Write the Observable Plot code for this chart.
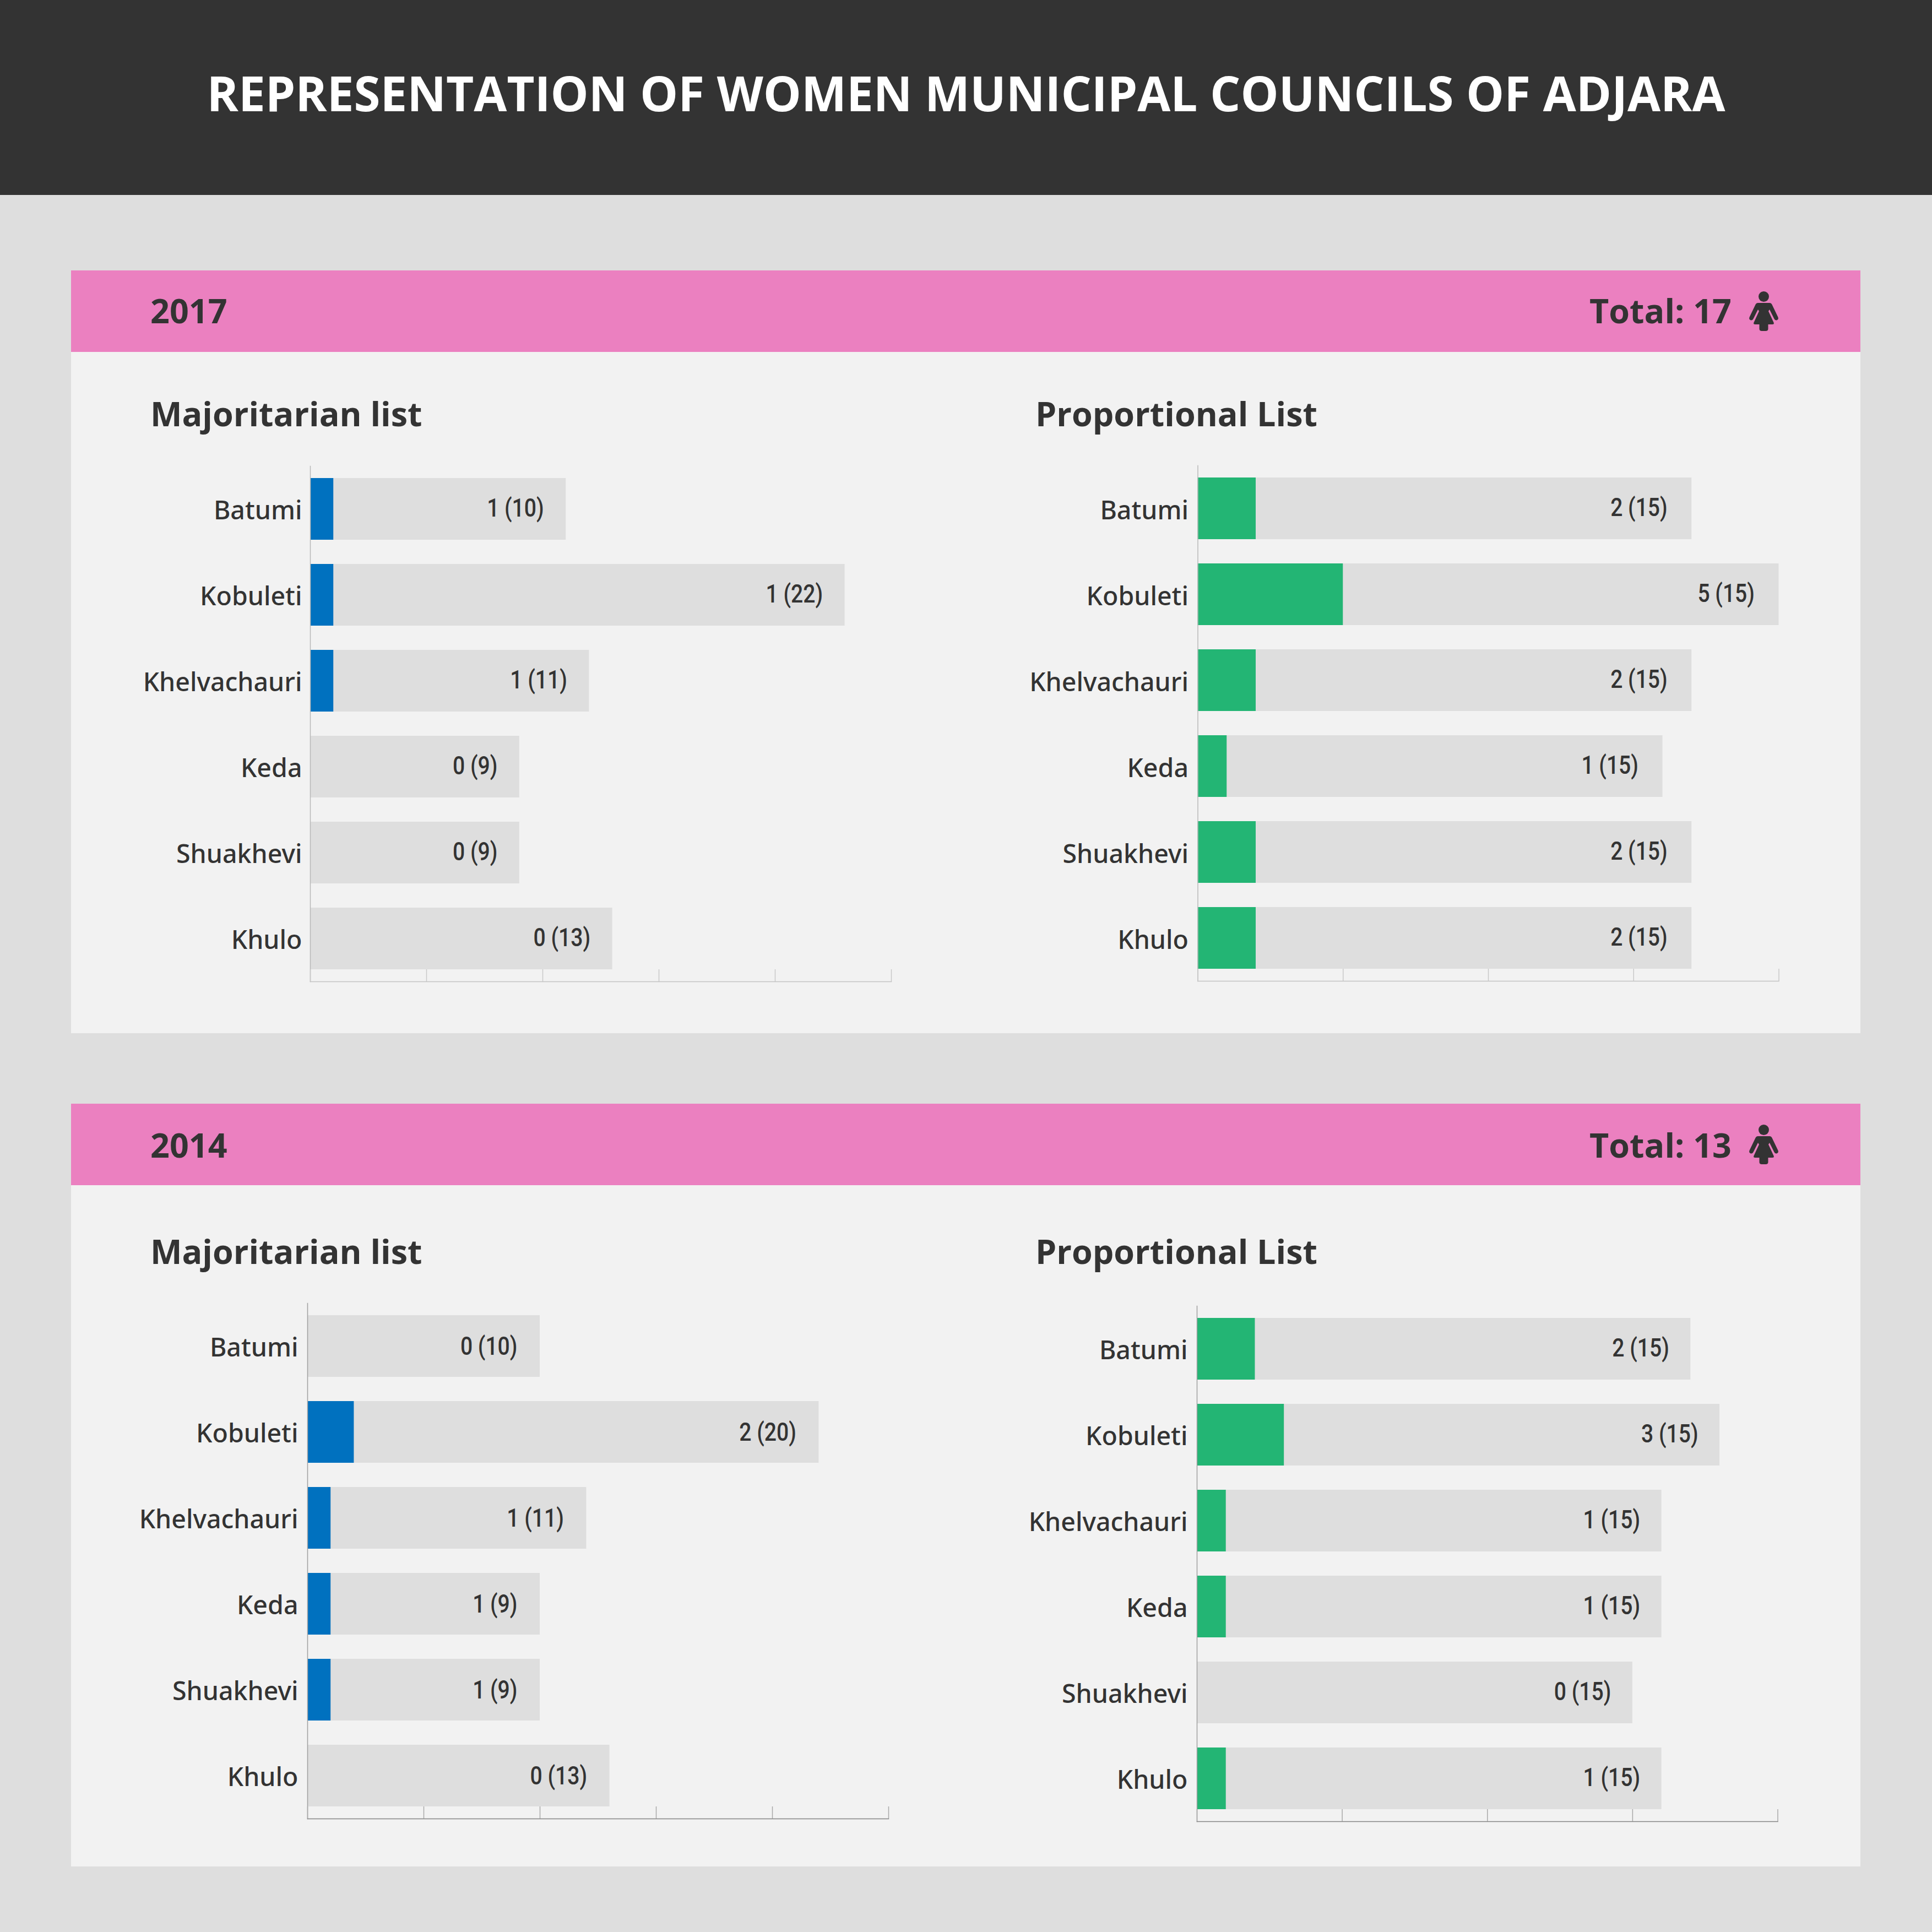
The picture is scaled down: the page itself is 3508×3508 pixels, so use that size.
<!DOCTYPE html>
<html><head><meta charset="utf-8">
<script src="https://cdn.jsdelivr.net/npm/d3@7"></script>
<script src="https://cdn.jsdelivr.net/npm/@observablehq/plot@0.6"></script>
<style>
html,body{margin:0;padding:0;background:#dedede}
#page{position:relative;width:3508px;height:3508px;background:#dedede;overflow:hidden;font-family:"Open Sans",sans-serif;color:#333}
.abs{position:absolute}
.t{position:absolute;white-space:nowrap;font-weight:700;line-height:1}
svg{overflow:visible}
</style></head><body><div id="page"></div>
<script>
const title = "REPRESENTATION OF WOMEN MUNICIPAL COUNCILS OF ADJARA";
const municipalities = ["Batumi","Kobuleti","Khelvachauri","Keda","Shuakhevi","Khulo"];
const women2017Maj = [1,1,1,0,0,0];
const others2017Maj = [10,22,11,9,9,13];
const women2017Pro = [2,5,2,1,2,2];
const others2017Pro = [15,15,15,15,15,15];
const women2014Maj = [0,2,1,1,1,0];
const others2014Maj = [10,20,11,9,9,13];
const women2014Pro = [2,3,1,1,0,1];
const others2014Pro = [15,15,15,15,15,15];
const BLUE="#0071bf", GREEN="#23b574", GREY="#dedede", INK="#333333";

const page=document.getElementById("page");
function box(l,t,w,h,c){const d=document.createElement("div");d.className="abs";d.style.cssText=`left:${l}px;top:${t}px;width:${w}px;height:${h}px;background:${c}`;page.appendChild(d);}
function text(s,l,baseline,size,opt={}){const d=document.createElement("div");d.className="t";d.textContent=s;
  d.style.fontSize=size+"px";d.style.top=(baseline-size*0.86)+"px";
  if(opt.right!==undefined){d.style.right=(3508-opt.right)+"px";}else d.style.left=l+"px";
  if(opt.center){d.style.left="0";d.style.width=opt.center*2+"px";d.style.textAlign="center";}
  if(opt.color)d.style.color=opt.color;page.appendChild(d);}
function icon(y){
  const ns="http://www.w3.org/2000/svg";const s=document.createElementNS(ns,"svg");
  s.setAttribute("viewBox","0 0 53 72");s.setAttribute("width",53);s.setAttribute("height",72);
  s.style.cssText=`position:absolute;left:3176px;top:${y}px`;
  s.innerHTML=`<ellipse cx="26.5" cy="9.5" rx="9.5" ry="9.5" fill="${INK}"/>
  <path d="M16 21 H37 Q40 21 41.5 24 L52.5 47 Q54 51 50 52.5 Q47 53 45.5 50 L37 33 L35 36 L44.5 56.5 Q46 60 42 60 H34.5 V68 Q34.5 72 30 72 H23 Q18.5 72 18.5 68 V60 H11 Q7 60 8.5 56.5 L18 36 L16 33 L7.5 50 Q6 53 3 52.5 Q-1 51 .5 47 L11.5 24 Q13 21 16 21Z" fill="${INK}"/>`;
  page.appendChild(s);
}
function panel(women,others,color,o){
  const rows=municipalities.map((m,i)=>({name:m,women:women[i],seats:others[i],total:women[i]+others[i],label:`${women[i]} (${others[i]})`}));
  const fig=Plot.plot({
    width:o.axisX+o.axisW+40,height:936+40,
    marginLeft:o.axisX,marginRight:40,marginTop:0,marginBottom:40,
    style:{background:"transparent",overflow:"visible"},
    x:{domain:[0,o.max],axis:null,ticks:o.ticks},
    y:{domain:municipalities,paddingInner:0.282,paddingOuter:0.141,axis:null},
    marks:[
      Plot.barX(rows,{x:"total",y:"name",fill:GREY}),
      Plot.barX(rows,{x:"women",y:"name",fill:color}),
      Plot.frame({anchor:"left",stroke:o.yAxis,strokeWidth:1.5}),
      Plot.frame({anchor:"bottom",stroke:o.xAxis,strokeWidth:1.5}),
      Plot.axisX({ticks:o.ticks,tickSize:-22,tickFormat:()=>"",stroke:o.tick,strokeWidth:1.5,label:null,anchor:"bottom",tickPadding:0}),
      Plot.axisY({tickSize:0,tickPadding:o.namePad,label:null,fontSize:46.5,fontWeight:500,fontFamily:"Noto Sans",fill:INK,dy:o.nameDy,anchor:"left"}),
      Plot.text(rows,{x:"total",y:"name",text:"label",textAnchor:"end",dx:o.valueDx,dy:o.valueDy,fontSize:46,fontWeight:500,fontFamily:"Roboto",fill:INK})
    ]
  });
  // the reference's value labels are set in a condensed face: squeeze Roboto horizontally
  fig.querySelectorAll('g[aria-label="text"] text').forEach(t=>{
    t.setAttribute("transform",(t.getAttribute("transform")||"")+" scale(0.85,1)");
  });
  fig.style.position="absolute";fig.style.left="0";fig.style.top=o.top+"px";fig.style.overflow="visible";
  page.appendChild(fig);
}
box(0,0,3508,354,INK);
text(title,0,200,87,{center:1754,color:"#fff"});
for(const [y,yr,tot,headY,subY] of [[491,"2017","Total: 17",94,281],[2004,"2014","Total: 13",96,289]]){
  box(129,y,3249,148,"#eb80c0");box(129,y+148,3249,1237,"#f2f2f2");
  text(yr,273,y+headY,61);
  text(tot,0,y+headY,61,{right:3144});
  icon(y+38);
  text("Majoritarian list",273,y+subY,61);
  text("Proportional List",1880,y+subY,61);
}
const M=[0,5,10,15,20,25],P=[0,5,10,15,20];
const light={yAxis:"#b8b8b8",xAxis:"#c4c4c4",tick:"#c8c8c8"},dark={yAxis:"#a0a0a0",xAxis:"#858585",tick:"#a8a8a8"};
panel(women2017Maj,others2017Maj,BLUE,{...light,axisX:563,axisW:1055,max:25,ticks:M,top:846,nameDy:4,namePad:15,valueDx:-40,valueDy:-1});
panel(women2017Pro,others2017Pro,GREEN,{...light,axisX:2174.5,axisW:1055,max:20,ticks:P,top:845,nameDy:5,namePad:17,valueDx:-44,valueDy:-1});
panel(women2014Maj,others2014Maj,BLUE,{...dark,axisX:558,axisW:1055,max:25,ticks:M,top:2366,nameDy:4,namePad:17,valueDx:-41,valueDy:1});
panel(women2014Pro,others2014Pro,GREEN,{...dark,axisX:2173,axisW:1054.5,max:20,ticks:P,top:2371,nameDy:4,namePad:17,valueDx:-39,valueDy:-1});
</script></body></html>
